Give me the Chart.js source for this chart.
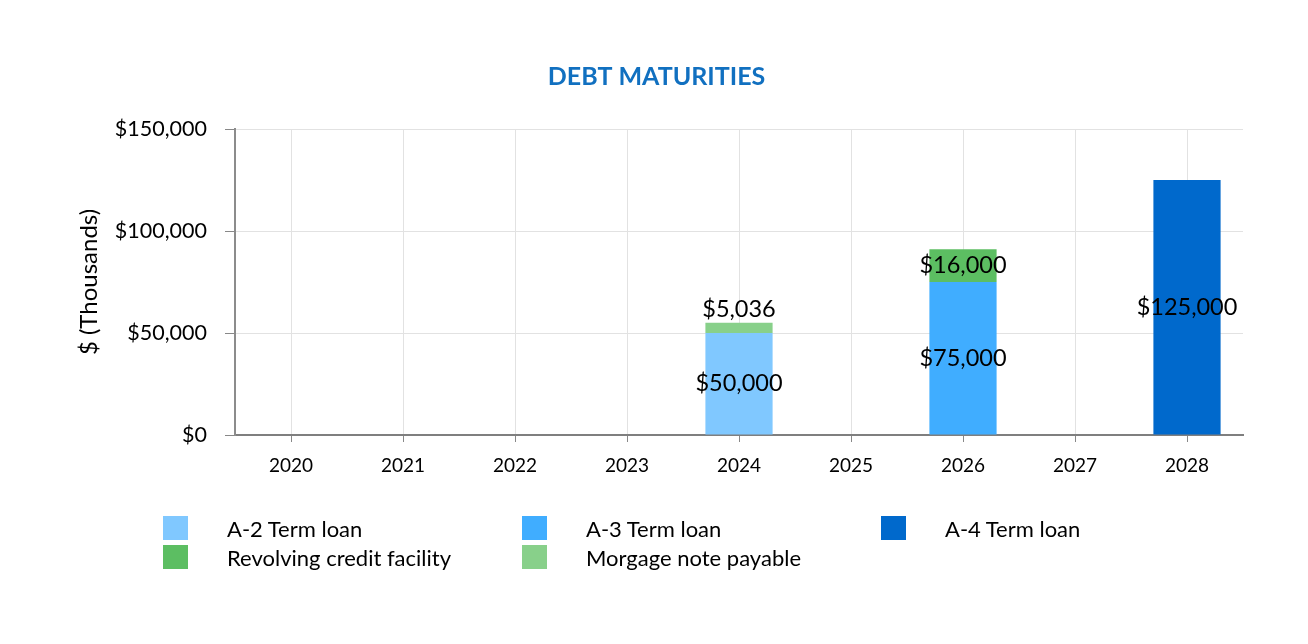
<!DOCTYPE html>
<html>
<head>
<meta charset="utf-8">
<script src="https://cdn.jsdelivr.net/npm/chart.js@4/dist/chart.umd.min.js"></script>
<style>
  html, body { margin: 0; padding: 0; background: #fff; }
  #wrap { position: relative; width: 1308px; height: 644px; }
  #legend {
    position: absolute; left: 163px; top: 516px;
    display: grid; grid-template-columns: repeat(3, 359px);
    row-gap: 5px; font-family: Lato, sans-serif; font-size: 22px; color: #000;
  }
  .item { display: flex; align-items: center; height: 24px; }
  .box { width: 25px; height: 24px; margin-right: 39px; flex: none; }
</style>
</head>
<body>
<div id="wrap">
  <canvas id="chart" width="1308" height="644"></canvas>
  <div id="legend"></div>
</div>
<script>
// 연도별 만기 (단위: 천 달러)
const years = ["2020", "2021", "2022", "2023", "2024", "2025", "2026", "2027", "2028"];
const a2TermLoan = [null, null, null, null, 50000, null, null, null, null];
const a3TermLoan = [null, null, null, null, null, null, 75000, null, null];
const a4TermLoan = [null, null, null, null, null, null, null, null, 125000];
const revolvingCredit = [null, null, null, null, null, null, 16000, null, null];
const mortgageNote = [null, null, null, null, 5036, null, null, null, null];

const fmt = (v) => "$" + Number(v).toLocaleString("en-US");

// 막대 위에 값 라벨 그리기
const barLabels = {
  id: "barLabels",
  afterDatasetsDraw(chart) {
    const ctx = chart.ctx;
    ctx.save();
    ctx.font = "23.5px Lato, sans-serif";
    ctx.fillStyle = "#000";
    ctx.textAlign = "center";
    ctx.textBaseline = "middle";
    chart.data.datasets.forEach((ds, i) => {
      const meta = chart.getDatasetMeta(i);
      meta.data.forEach((bar, j) => {
        const v = ds.data[j];
        if (v == null) return;
        const y = ds.labelAnchor === "end" ? bar.y - 13 : (bar.y + bar.base) / 2;
        ctx.fillText(fmt(v), bar.x, y);
      });
    });
    ctx.restore();
  },
};

const chart = new Chart(document.getElementById("chart"), {
  type: "bar",
  data: {
    labels: years,
    datasets: [
      { label: "A-2 Term loan", data: a2TermLoan, backgroundColor: "#80c8ff" },
      { label: "A-3 Term loan", data: a3TermLoan, backgroundColor: "#40adff" },
      { label: "A-4 Term loan", data: a4TermLoan, backgroundColor: "#0069cc" },
      { label: "Revolving credit facility", data: revolvingCredit, backgroundColor: "#5cbe62" },
      { label: "Morgage note payable", data: mortgageNote, backgroundColor: "#88d08a", labelAnchor: "end" },
    ],
  },
  options: {
    responsive: false,
    animation: false,
    barPercentage: 0.6,
    categoryPercentage: 1,
    layout: { padding: { top: 0, left: 70, right: 65, bottom: 149 } },
    plugins: {
      legend: { display: false },
      tooltip: { enabled: false },
      title: {
        display: true,
        text: "DEBT MATURITIES",
        color: "#1170c0",
        font: { family: "Lato, sans-serif", size: 25, weight: "bold" },
        padding: { top: 62, bottom: 37 },
      },
    },
    scales: {
      x: {
        stacked: true,
        grid: { offset: false, color: "#e2e2e2", tickColor: "#888", tickLength: 7 },
        border: { color: "#7f7f7f", width: 2 },
        ticks: { color: "#000", padding: 12, font: { family: "Lato, sans-serif", size: 19 } },
        afterFit(s) { s.height = 60; },
      },
      y: {
        stacked: true,
        min: 0,
        max: 150000,
        grid: { color: "#e2e2e2", tickColor: "#888", tickLength: 10 },
        border: { color: "#8c8c8c", width: 2 },
        ticks: {
          stepSize: 50000,
          color: "#000",
          padding: 18,
          font: { family: "Lato, sans-serif", size: 21.5 },
          callback: (v) => fmt(v),
        },
        title: {
          display: true,
          text: "$ (Thousands)",
          color: "#000",
          font: { family: "Lato, sans-serif", size: 24 },
          padding: { top: 5, bottom: 0 },
        },
        afterFit(s) { s.width = 165; },
      },
    },
  },
  plugins: [barLabels],
});

// 범례 (3열 격자)
const legendEl = document.getElementById("legend");
chart.data.datasets.forEach((ds) => {
  const item = document.createElement("div");
  item.className = "item";
  item.innerHTML = `<span class="box" style="background:${ds.backgroundColor}"></span><span>${ds.label}</span>`;
  legendEl.appendChild(item);
});
</script>
</body>
</html>
